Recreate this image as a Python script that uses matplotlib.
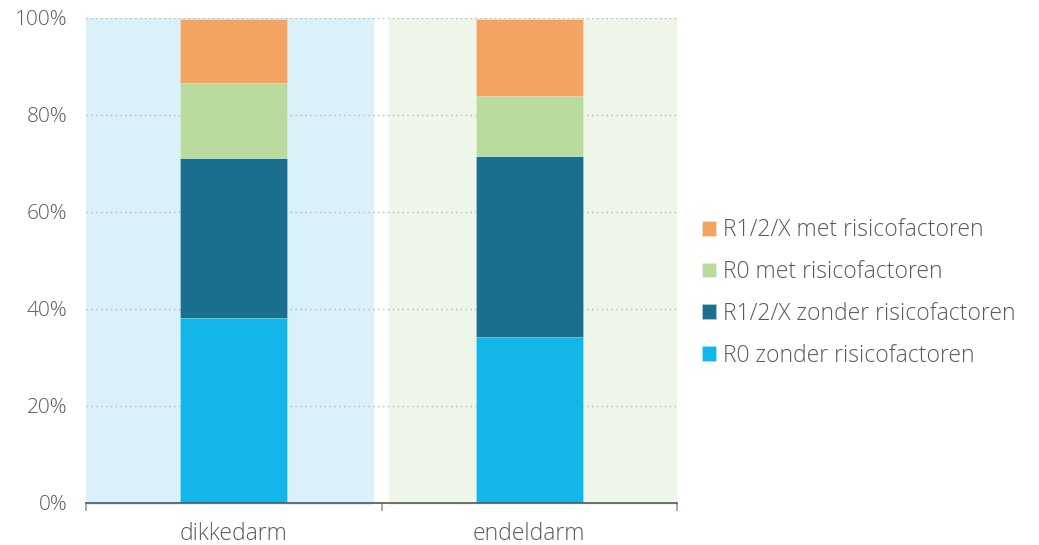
import matplotlib
matplotlib.use("Agg")
import matplotlib.pyplot as plt
from matplotlib.ticker import FixedLocator, FuncFormatter

# Share of patients per outcome group (percent)
categories = ["dikkedarm", "endeldarm"]
series_names = [
    "R0 zonder risicofactoren",
    "R1/2/X zonder risicofactoren",
    "R0 met risicofactoren",
    "R1/2/X met risicofactoren",
]
r0_zonder = [38.1, 34.2]
r12x_zonder = [33.0, 37.3]
r0_met = [15.5, 12.4]
r12x_met = [13.1, 15.8]
series_values = [r0_zonder, r12x_zonder, r0_met, r12x_met]
y_ticks = [0, 20, 40, 60, 80, 100]

colors = ["#12B6E9", "#1B6F8E", "#B9DB9D", "#F4A462"]
band_colors = ["#DAF1FA", "#EEF5E9"]
text_color = "#5A5A5A"

plt.rcParams["font.family"] = ["Open Sans", "DejaVu Sans"]
plt.rcParams["font.weight"] = "light"

fig = plt.figure(figsize=(10.39, 5.45), dpi=100)
ax = fig.add_axes([0.0828, 0.0771, 0.5688, 0.8899])

x = list(range(len(categories)))

# Shaded background band behind each category
band_gap = 0.027
for i, c in zip(x, band_colors):
    lo = i - 0.5 + (band_gap if i > 0 else 0)
    hi = i + 0.5 - (band_gap if i < len(categories) - 1 else 0)
    ax.axvspan(lo, hi, ymin=-0.005, ymax=1, color=c, zorder=0, lw=0, clip_on=False)

# Dotted horizontal grid
for t in y_ticks[1:]:
    ax.axhline(t, color="#B8B8B8", lw=1.0, ls=(0, (1, 2.5)), zorder=0.5)

bottom = [0.0] * len(categories)
handles = []
for name, vals, col in zip(series_names, series_values, colors):
    h = ax.bar(x, vals, width=0.362, bottom=bottom, color=col, label=name,
               zorder=2, edgecolor=(1, 1, 1, 0.25), linewidth=0.6)
    handles.append(h)
    bottom = [b + v for b, v in zip(bottom, vals)]

ax.set_xlim(-0.5, len(categories) - 0.5)
ax.set_ylim(0, 100)

for s in ["top", "right", "left"]:
    ax.spines[s].set_visible(False)
ax.spines["bottom"].set_color("#555555")
ax.spines["bottom"].set_linewidth(1.2)
ax.spines["bottom"].set_zorder(3)

ax.yaxis.set_major_locator(FixedLocator(y_ticks))
ax.yaxis.set_major_formatter(FuncFormatter(lambda v, p: f"{v:.0f}%"))
ax.tick_params(axis="y", length=0, pad=13.5, labelsize=15, labelcolor=text_color)

# Category labels centred, ticks on category boundaries
ax.set_xticks([i - 0.5 for i in range(len(categories) + 1)])
ax.set_xticklabels([])
ax.set_xticks(x, minor=True)
ax.set_xticklabels(categories, minor=True)
ax.tick_params(axis="x", which="major", length=6, width=1.2, color="#999999")
ax.tick_params(axis="x", which="minor", length=0, pad=14, labelsize=16.5,
               labelcolor=text_color)

leg = ax.legend(handles[::-1], series_names[::-1], loc="center left",
                bbox_to_anchor=(1.027, 0.433), frameon=False, fontsize=16.5,
                handlelength=0.62, handleheight=0.62, handletextpad=0.3,
                labelspacing=0.78, borderaxespad=0)
for t in leg.get_texts():
    t.set_color(text_color)

fig.savefig("out.png", dpi=100)
